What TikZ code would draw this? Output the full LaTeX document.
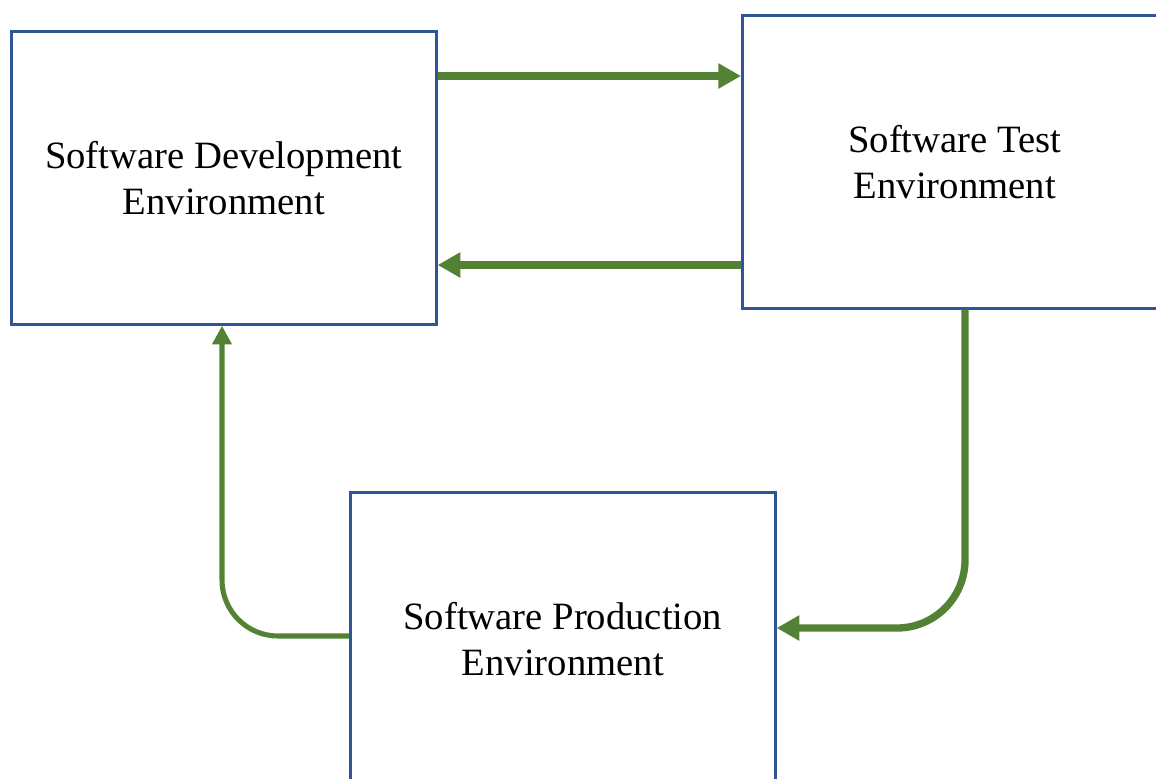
\documentclass[tikz,border=0pt]{standalone}
\usepackage{fontspec}
\setmainfont{Liberation Serif}
\usetikzlibrary{arrows.meta}
\definecolor{boxblue}{HTML}{2F5597}
\definecolor{arrgreen}{HTML}{548235}
\tikzset{
  envbox/.style={draw=boxblue, line width=2pt, fill=white, minimum width=318.75pt, minimum height=219.75pt, inner sep=0pt, align=center, font=\fontsize{29}{34.5}\selectfont, anchor=north west},
  bigarrow/.style={draw=arrgreen, line width=5.5pt, -{Triangle[length=17pt,width=18pt]}},
  smallarrow/.style={draw=arrgreen, line width=3.8pt, -{Triangle[length=14pt,width=14pt]}}
}
\begin{document}
\begin{tikzpicture}[x=0.75pt,y=-0.75pt]
\useasboundingbox (0,0) rectangle (1156,778);
\clip (0,0) rectangle (1156,778);
\node[envbox] (dev) at (10,30) {Software Development\\Environment};
\node[envbox] (test) at (741,14) {Software Test\\Environment};
\node[envbox] (prod) at (349,491) {Software Production\\Environment};
\draw[bigarrow] (dev.east |- 0,76) -- (test.west |- 0,76);
\draw[bigarrow] (test.west |- 0,265) -- (dev.east |- 0,265);
\draw[bigarrow, rounded corners=51pt] (test.south -| 965,0) |- (prod.east |- 0,628);
\draw[smallarrow, rounded corners=42pt] (prod.west |- 0,636) -| (dev.south -| 222,0);
\end{tikzpicture}
\end{document}
